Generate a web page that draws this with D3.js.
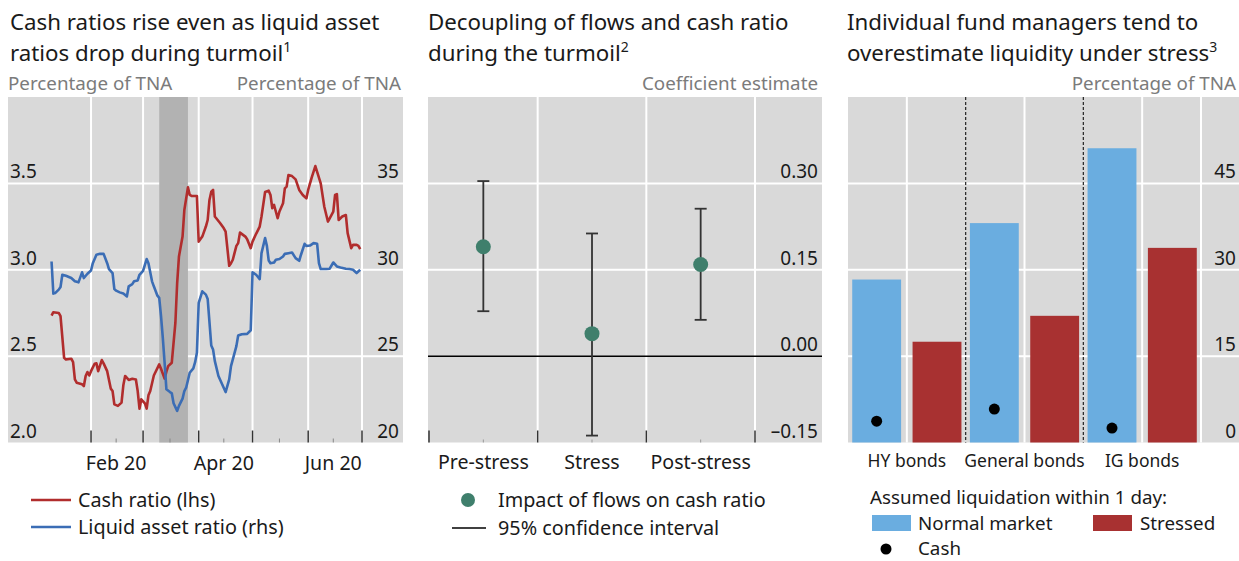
<!DOCTYPE html>
<html><head><meta charset="utf-8">
<script src="https://cdn.jsdelivr.net/npm/d3@7"></script>
<style>
html,body{margin:0;padding:0;background:#fff;}
svg{display:block;font-family:"Noto Sans",sans-serif;}
</style></head><body>
<svg id="chart" width="1239" height="561"></svg>
<script>
// ---------- Panel 1: cash ratio vs liquid asset ratio ----------
const cashRatio = [
["2020-01-10",2.735],["2020-01-11",2.754],["2020-01-14",2.750],["2020-01-15",2.731],
["2020-01-17",2.490],["2020-01-18",2.481],["2020-01-21",2.485],["2020-01-22",2.465],
["2020-01-23",2.365],["2020-01-24",2.346],["2020-01-27",2.337],["2020-01-28",2.327],
["2020-01-29",2.385],["2020-01-30",2.408],["2020-01-31",2.388],["2020-02-01",2.413],
["2020-02-03",2.456],["2020-02-04",2.458],["2020-02-05",2.413],["2020-02-07",2.477],
["2020-02-08",2.458],["2020-02-10",2.413],["2020-02-12",2.312],["2020-02-13",2.298],
["2020-02-14",2.221],["2020-02-16",2.212],["2020-02-18",2.231],["2020-02-19",2.331],
["2020-02-20",2.385],["2020-02-22",2.362],["2020-02-24",2.369],["2020-02-26",2.365],
["2020-02-27",2.298],["2020-02-28",2.196],["2020-02-29",2.250],["2020-03-02",2.227],
["2020-03-03",2.196],["2020-03-04",2.273],["2020-03-05",2.298],["2020-03-07",2.388],
["2020-03-10",2.452],["2020-03-11",2.427],["2020-03-13",2.370],["2020-03-14",2.410],
["2020-03-15",2.442],["2020-03-17",2.462],["2020-03-19",2.692],["2020-03-20",2.923],
["2020-03-21",3.077],["2020-03-23",3.192],["2020-03-24",3.346],["2020-03-26",3.477],
["2020-03-27",3.433],["2020-03-28",3.427],["2020-03-31",3.427],["2020-04-01",3.163],
["2020-04-03",3.192],["2020-04-05",3.250],["2020-04-06",3.288],["2020-04-07",3.404],
["2020-04-08",3.452],["2020-04-09",3.462],["2020-04-10",3.308],["2020-04-13",3.269],
["2020-04-15",3.240],["2020-04-16",3.221],["2020-04-18",3.023],["2020-04-19",3.038],
["2020-04-20",3.058],["2020-04-22",3.138],["2020-04-23",3.154],["2020-04-24",3.215],
["2020-04-27",3.192],["2020-04-28",3.177],["2020-04-30",3.125],["2020-05-01",3.163],
["2020-05-03",3.208],["2020-05-05",3.250],["2020-05-06",3.308],["2020-05-08",3.450],
["2020-05-10",3.458],["2020-05-11",3.433],["2020-05-12",3.356],["2020-05-13",3.375],
["2020-05-15",3.298],["2020-05-16",3.337],["2020-05-18",3.385],["2020-05-19",3.471],
["2020-05-20",3.481],["2020-05-21",3.548],["2020-05-23",3.542],["2020-05-25",3.523],
["2020-05-27",3.462],["2020-05-29",3.433],["2020-05-31",3.413],["2020-06-01",3.462],
["2020-06-03",3.535],["2020-06-05",3.600],["2020-06-06",3.567],["2020-06-08",3.500],
["2020-06-10",3.365],["2020-06-12",3.279],["2020-06-13",3.298],["2020-06-15",3.337],
["2020-06-16",3.433],["2020-06-17",3.438],["2020-06-18",3.288],["2020-06-20",3.308],
["2020-06-22",3.317],["2020-06-23",3.212],["2020-06-25",3.125],["2020-06-26",3.144],
["2020-06-28",3.144],["2020-06-29",3.138],["2020-06-30",3.119]
];
const liquidAssetRatio = [
["2020-01-10",30.48],["2020-01-11",28.62],["2020-01-12",28.65],["2020-01-14",28.85],
["2020-01-15",29.00],["2020-01-16",29.71],["2020-01-18",29.65],["2020-01-21",29.52],
["2020-01-23",29.33],["2020-01-25",29.27],["2020-01-27",29.85],["2020-01-28",29.52],
["2020-01-30",29.77],["2020-02-01",29.96],["2020-02-02",30.38],["2020-02-04",30.87],
["2020-02-06",30.92],["2020-02-08",30.92],["2020-02-10",30.38],["2020-02-11",30.04],
["2020-02-13",29.81],["2020-02-14",28.88],["2020-02-15",28.79],["2020-02-17",28.69],
["2020-02-19",28.62],["2020-02-21",28.46],["2020-02-22",29.04],["2020-02-24",29.17],
["2020-02-25",29.33],["2020-02-27",29.38],["2020-02-28",29.71],["2020-03-01",29.94],
["2020-03-03",30.62],["2020-03-04",30.38],["2020-03-06",29.33],["2020-03-07",29.04],
["2020-03-09",28.50],["2020-03-10",28.37],["2020-03-11",27.31],["2020-03-12",26.06],
["2020-03-13",24.62],["2020-03-14",23.08],["2020-03-16",22.92],["2020-03-17",22.85],
["2020-03-18",22.27],["2020-03-20",21.83],["2020-03-21",22.12],["2020-03-23",22.54],
["2020-03-24",22.98],["2020-03-25",23.17],["2020-03-27",24.04],["2020-03-29",24.29],
["2020-03-30",24.65],["2020-03-31",25.19],["2020-04-01",28.08],["2020-04-03",28.75],
["2020-04-05",28.56],["2020-04-06",28.31],["2020-04-08",25.62],["2020-04-09",25.38],
["2020-04-10",24.71],["2020-04-12",23.85],["2020-04-16",22.92],["2020-04-18",23.65],
["2020-04-19",24.42],["2020-04-22",25.58],["2020-04-23",26.19],["2020-04-25",26.27],
["2020-04-28",26.29],["2020-04-30",26.50],["2020-05-01",29.85],["2020-05-03",29.71],
["2020-05-05",29.46],["2020-05-06",30.96],["2020-05-08",31.83],["2020-05-09",31.38],
["2020-05-10",30.54],["2020-05-11",30.38],["2020-05-13",30.42],["2020-05-14",30.58],
["2020-05-16",30.62],["2020-05-18",30.77],["2020-05-19",30.92],["2020-05-21",30.96],
["2020-05-23",31.00],["2020-05-25",30.67],["2020-05-27",30.52],["2020-05-28",30.87],
["2020-05-30",31.50],["2020-05-31",31.38],["2020-06-02",31.40],["2020-06-04",31.54],
["2020-06-06",31.50],["2020-06-07",30.38],["2020-06-08",30.04],["2020-06-11",30.04],
["2020-06-13",30.06],["2020-06-15",30.42],["2020-06-17",30.19],["2020-06-19",30.13],
["2020-06-22",30.06],["2020-06-24",30.04],["2020-06-26",30.00],["2020-06-28",29.81],
["2020-06-30",30.00]
];
const turmoilPeriod = ["2020-03-10","2020-03-26"];
const monthTicks = ["2020-02-01","2020-03-01","2020-04-01","2020-05-01","2020-06-01","2020-07-01"];
const midMonthTicks = ["2020-02-15","2020-03-16","2020-04-15","2020-05-16","2020-06-15"];
const monthLabelDates = ["2020-02-15","2020-04-15","2020-06-15"];
const cashTicks = [2.0, 2.5, 3.0, 3.5];
const liquidTicks = [20, 25, 30, 35];

// ---------- Panel 2: regression coefficients ----------
const phases = ["Pre-stress", "Stress", "Post-stress"];
const coefEstimate = [0.190, 0.039, 0.159];
const ciLower = [0.078, -0.138, 0.063];
const ciUpper = [0.304, 0.213, 0.256];
const coefTicks = [-0.15, 0.00, 0.15, 0.30];

// ---------- Panel 3: liquidation assumptions ----------
const bondTypes = ["HY bonds", "General bonds", "IG bonds"];
const normalMarket = [28.3, 38.1, 51.1];
const stressed = [17.5, 22.0, 33.8];
const cashShare = [3.7, 5.8, 2.5];
const pctTicks = [0, 15, 30, 45];

// ---------- drawing ----------
const svg = d3.select("#chart");
const parse = d3.timeParse("%Y-%m-%d");
const BG = "#d9d9d9", GRID = "#ffffff", INK = "#1a1a1a", UNIT = "#7b7b7b";
const RED = "#b12d2d", BLUE = "#3b6db5", BAR_BLUE = "#6aade0", BAR_RED = "#a83131", GREEN = "#3f7f6c";
const TOP = 97, BOTTOM = 442.5;
const FS_TITLE = 22.3, FS_UNIT = 18.8, FS_TICK = 19, FS_XLAB = 19.6, FS_LEG = 19.8;
const fmtDash = v => (v < 0 ? "\u2013" : "") + d3.format(".2f")(Math.abs(v));

function title(x, lines, sup) {
  const t = svg.append("text").attr("x", x).attr("y", 30).attr("font-size", FS_TITLE).attr("fill", INK);
  t.append("tspan").attr("x", x).attr("dy", 0).text(lines[0]);
  t.append("tspan").attr("x", x).attr("dy", 30.6).text(lines[1]);
  t.append("tspan").attr("font-size", 14).attr("dy", -9).text(sup);
}
function unit(x, anchor, txt) {
  svg.append("text").attr("x", x).attr("y", 90).attr("text-anchor", anchor)
    .attr("font-size", FS_UNIT).attr("fill", UNIT).text(txt);
}

// ===== Panel 1 =====
{
  const x0 = 8, x1 = 403;
  const x = d3.scaleTime().domain([parse("2020-01-01"), parse("2020-07-01")]).range([35.4, 362]);
  const yL = d3.scaleLinear().domain([2, 4]).range([BOTTOM, TOP]);
  const yR = d3.scaleLinear().domain([20, 40]).range([BOTTOM, TOP]);
  const g = svg.append("g");
  g.append("rect").attr("x", x0).attr("y", TOP).attr("width", x1 - x0).attr("height", BOTTOM - TOP).attr("fill", BG);
  g.selectAll(".hg").data(cashTicks.slice(1)).join("line")
    .attr("x1", x0).attr("x2", x1).attr("y1", d => yL(d)).attr("y2", d => yL(d))
    .attr("stroke", GRID).attr("stroke-width", 2);
  g.selectAll(".vg").data(monthTicks).join("line")
    .attr("x1", d => x(parse(d))).attr("x2", d => x(parse(d))).attr("y1", TOP).attr("y2", BOTTOM)
    .attr("stroke", GRID).attr("stroke-width", 2);
  g.append("rect").attr("x", x(parse(turmoilPeriod[0]))).attr("y", TOP)
    .attr("width", x(parse(turmoilPeriod[1])) - x(parse(turmoilPeriod[0]))).attr("height", BOTTOM - TOP)
    .attr("fill", "#b2b2b2");
  g.selectAll(".mt").data(monthTicks).join("line")
    .attr("x1", d => x(parse(d))).attr("x2", d => x(parse(d))).attr("y1", BOTTOM - 12).attr("y2", BOTTOM)
    .attr("stroke", "#333").attr("stroke-width", 1.5);
  g.selectAll(".mn").data(midMonthTicks).join("line")
    .attr("x1", d => x(parse(d))).attr("x2", d => x(parse(d))).attr("y1", BOTTOM - 4).attr("y2", BOTTOM)
    .attr("stroke", "#888").attr("stroke-width", 1);
  const line = (yS) => d3.line().x(d => x(parse(d[0]))).y(d => yS(d[1]));
  g.append("path").datum(cashRatio).attr("d", line(yL)).attr("fill", "none")
    .attr("stroke", RED).attr("stroke-width", 2.6).attr("stroke-linejoin", "round");
  g.append("path").datum(liquidAssetRatio).attr("d", line(yR)).attr("fill", "none")
    .attr("stroke", BLUE).attr("stroke-width", 2.6).attr("stroke-linejoin", "round");
  g.selectAll(".tl").data(cashTicks).join("text")
    .attr("x", 10).attr("y", d => yL(d) - 5).attr("font-size", FS_TICK).attr("fill", INK)
    .text(d => d3.format(".1f")(d));
  g.selectAll(".tr").data(liquidTicks).join("text")
    .attr("x", 399).attr("y", d => yR(d) - 5).attr("text-anchor", "end").attr("font-size", FS_TICK).attr("fill", INK)
    .text(d => d);
  g.selectAll(".xl").data(monthLabelDates).join("text")
    .attr("x", d => x(parse(d))).attr("y", 470).attr("text-anchor", "middle").attr("font-size", FS_XLAB).attr("fill", INK)
    .text(d => d3.timeFormat("%b %y")(parse(d)));
  title(10, ["Cash ratios rise even as liquid asset", "ratios drop during turmoil"], "1");
  unit(8, "start", "Percentage of TNA");
  unit(401, "end", "Percentage of TNA");
  // legend
  const leg = [["Cash ratio (lhs)", RED], ["Liquid asset ratio (rhs)", BLUE]];
  leg.forEach((d, i) => {
    const yy = 500 + i * 27;
    svg.append("line").attr("x1", 31).attr("x2", 71).attr("y1", yy).attr("y2", yy).attr("stroke", d[1]).attr("stroke-width", 2.5);
    svg.append("text").attr("x", 78).attr("y", yy + 7).attr("font-size", FS_LEG).attr("fill", INK).text(d[0]);
  });
}

// ===== Panel 2 =====
{
  const x0 = 428, x1 = 822;
  const x = d3.scaleBand().domain(phases).range([429, 755]);
  const y = d3.scaleLinear().domain([-0.15, 0.45]).range([BOTTOM, TOP]);
  const g = svg.append("g");
  g.append("rect").attr("x", x0).attr("y", TOP).attr("width", x1 - x0).attr("height", BOTTOM - TOP).attr("fill", BG);
  g.selectAll(".hg").data(coefTicks.filter(d => d > 0)).join("line")
    .attr("x1", x0).attr("x2", x1).attr("y1", d => y(d)).attr("y2", d => y(d))
    .attr("stroke", GRID).attr("stroke-width", 2);
  const bounds = phases.slice(1).map(p => x(p)).concat([x.range()[1]]);
  g.selectAll(".vg").data(bounds).join("line")
    .attr("x1", d => d).attr("x2", d => d).attr("y1", TOP).attr("y2", BOTTOM)
    .attr("stroke", GRID).attr("stroke-width", 2);
  g.append("line").attr("x1", x0).attr("x2", x1).attr("y1", y(0)).attr("y2", y(0))
    .attr("stroke", "#000").attr("stroke-width", 1.5);
  g.selectAll(".mt").data([x.range()[0]].concat(bounds)).join("line")
    .attr("x1", d => d).attr("x2", d => d).attr("y1", BOTTOM - 12).attr("y2", BOTTOM)
    .attr("stroke", "#333").attr("stroke-width", 1.5);
  g.selectAll(".mn").data(phases).join("line")
    .attr("x1", d => x(d) + x.bandwidth() / 2).attr("x2", d => x(d) + x.bandwidth() / 2)
    .attr("y1", BOTTOM - 3).attr("y2", BOTTOM).attr("stroke", "#999").attr("stroke-width", 1);
  const cx = i => x(phases[i]) + x.bandwidth() / 2;
  phases.forEach((p, i) => {
    g.append("line").attr("x1", cx(i)).attr("x2", cx(i)).attr("y1", y(ciLower[i])).attr("y2", y(ciUpper[i]))
      .attr("stroke", "#333").attr("stroke-width", 1.8);
    [ciLower[i], ciUpper[i]].forEach(v => g.append("line")
      .attr("x1", cx(i) - 6).attr("x2", cx(i) + 6).attr("y1", y(v)).attr("y2", y(v))
      .attr("stroke", "#333").attr("stroke-width", 1.8));
    g.append("circle").attr("cx", cx(i)).attr("cy", y(coefEstimate[i])).attr("r", 7.5).attr("fill", GREEN);
  });
  g.selectAll(".tr").data(coefTicks).join("text")
    .attr("x", 818).attr("y", d => y(d) - 5).attr("text-anchor", "end").attr("font-size", FS_TICK).attr("fill", INK)
    .text(fmtDash);
  g.selectAll(".xl").data(phases).join("text")
    .attr("x", d => x(d) + x.bandwidth() / 2).attr("y", 469).attr("text-anchor", "middle")
    .attr("font-size", FS_XLAB).attr("fill", INK).text(d => d);
  title(428, ["Decoupling of flows and cash ratio", "during the turmoil"], "2");
  unit(818, "end", "Coefficient estimate");
  svg.append("circle").attr("cx", 468).attr("cy", 500).attr("r", 7).attr("fill", GREEN);
  svg.append("text").attr("x", 498).attr("y", 507).attr("font-size", FS_LEG).attr("fill", INK).text("Impact of flows on cash ratio");
  svg.append("line").attr("x1", 452).attr("x2", 486).attr("y1", 528).attr("y2", 528).attr("stroke", "#000").attr("stroke-width", 1.5);
  svg.append("text").attr("x", 498).attr("y", 535).attr("font-size", FS_LEG).attr("fill", INK).text("95% confidence interval");
}

// ===== Panel 3 =====
{
  const x0 = 848, x1 = 1239;
  const FS_LEG3 = 18.8;
  const x = d3.scaleBand().domain(bondTypes).range([848, 1201]);
  const xi = d3.scaleBand().domain(["normal", "stressed"]).range([0, x.bandwidth()]).paddingInner(0.19).paddingOuter(0.07);
  const y = d3.scaleLinear().domain([0, 60]).range([BOTTOM, TOP]);
  const g = svg.append("g");
  g.append("rect").attr("x", x0).attr("y", TOP).attr("width", x1 - x0).attr("height", BOTTOM - TOP).attr("fill", BG);
  g.selectAll(".hg").data(pctTicks.slice(1)).join("line")
    .attr("x1", x0).attr("x2", x1).attr("y1", d => y(d)).attr("y2", d => y(d))
    .attr("stroke", GRID).attr("stroke-width", 2);
  const centers = bondTypes.map(b => x(b) + x.bandwidth() / 2).concat([x.range()[1]]);
  g.selectAll(".vg").data(centers).join("line")
    .attr("x1", d => d).attr("x2", d => d).attr("y1", TOP).attr("y2", BOTTOM)
    .attr("stroke", GRID).attr("stroke-width", 2);
  bondTypes.forEach((b, i) => {
    g.append("rect").attr("x", x(b) + xi("normal")).attr("y", y(normalMarket[i]))
      .attr("width", xi.bandwidth()).attr("height", y(0) - y(normalMarket[i])).attr("fill", BAR_BLUE);
    g.append("rect").attr("x", x(b) + xi("stressed")).attr("y", y(stressed[i]))
      .attr("width", xi.bandwidth()).attr("height", y(0) - y(stressed[i])).attr("fill", BAR_RED);
    g.append("circle").attr("cx", x(b) + xi("normal") + xi.bandwidth() / 2).attr("cy", y(cashShare[i]))
      .attr("r", 5.5).attr("fill", "#000");
  });
  g.selectAll(".dl").data(bondTypes.slice(1)).join("line")
    .attr("x1", d => x(d)).attr("x2", d => x(d)).attr("y1", TOP).attr("y2", BOTTOM)
    .attr("stroke", "#222").attr("stroke-width", 1.2).attr("stroke-dasharray", "3,2");
  g.selectAll(".tr").data(pctTicks).join("text")
    .attr("x", 1236).attr("y", d => y(d) - 5).attr("text-anchor", "end").attr("font-size", FS_TICK).attr("fill", INK)
    .text(d => d);
  g.selectAll(".xl").data(bondTypes).join("text")
    .attr("x", d => x(d) + x.bandwidth() / 2).attr("y", 467).attr("text-anchor", "middle")
    .attr("font-size", 17.5).attr("fill", INK).text(d => d);
  title(847, ["Individual fund managers tend to", "overestimate liquidity under stress"], "3");
  unit(1236, "end", "Percentage of TNA");
  svg.append("text").attr("x", 870).attr("y", 503.5).attr("font-size", FS_LEG3).attr("fill", INK).text("Assumed liquidation within 1 day:");
  svg.append("rect").attr("x", 872).attr("y", 515).attr("width", 39).attr("height", 16).attr("fill", BAR_BLUE);
  svg.append("text").attr("x", 918).attr("y", 529.5).attr("font-size", FS_LEG3).attr("fill", INK).text("Normal market");
  svg.append("rect").attr("x", 1093).attr("y", 515).attr("width", 39).attr("height", 16).attr("fill", BAR_RED);
  svg.append("text").attr("x", 1140).attr("y", 529.5).attr("font-size", FS_LEG3).attr("fill", INK).text("Stressed");
  svg.append("circle").attr("cx", 886).attr("cy", 549).attr("r", 5.5).attr("fill", "#000");
  svg.append("text").attr("x", 918).attr("y", 555.3).attr("font-size", FS_LEG3).attr("fill", INK).text("Cash");
}
</script>
</body></html>
